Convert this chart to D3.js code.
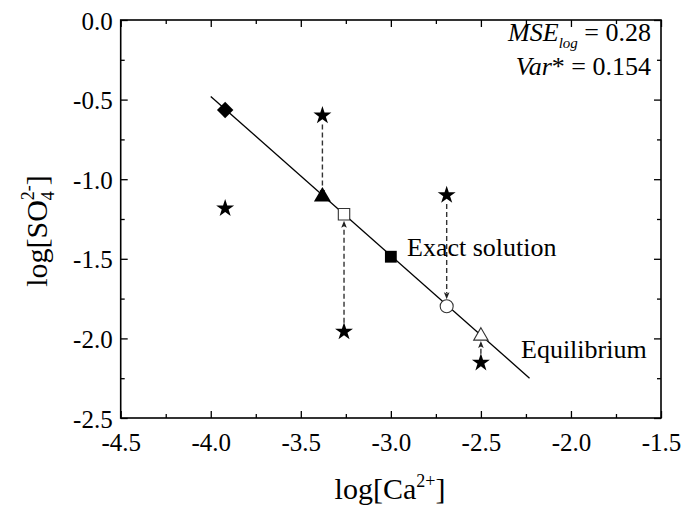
<!DOCTYPE html>
<html><head><meta charset="utf-8">
<script src="https://cdn.jsdelivr.net/npm/d3@7"></script>
<style>
html,body{margin:0;padding:0;background:#fff;}
svg text{font-family:"Liberation Serif","Times New Roman",serif;fill:#000;}
</style></head>
<body><svg id="c" width="685" height="514"></svg>
<script>
// ---- data ----
const xTicks = [-4.5, -4.0, -3.5, -3.0, -2.5, -2.0, -1.5];
const yTicks = [-2.5, -2.0, -1.5, -1.0, -0.5, 0.0];
const xMinor = [-4.25, -3.75, -3.25, -2.75, -2.25, -1.75];
const yMinor = [-2.25, -1.75, -1.25, -0.75, -0.25];
// equilibrium line
const lineX = [-4.0, -2.23];
const lineY = [-0.48, -2.25];
// points on the equilibrium line
const eqX = [-3.92, -3.38, -3.26, -3.0, -2.69, -2.50];
const eqY = [-0.565, -1.11, -1.22, -1.487, -1.798, -1.985];
const eqShape = ["diamond", "triangle", "squareOpen", "square", "circleOpen", "triangleOpen"];
// star points (measurements)
const starX = [-3.92, -3.38, -3.26, -2.69, -2.50];
const starY = [-1.183, -0.60, -1.958, -1.10, -2.153];
// arrows: star index -> eq index
const arrowFrom = [1, 2, 3, 4];
const arrowTo   = [1, 2, 4, 5];

const svg = d3.select("#c");
const x = d3.scaleLinear().domain([-4.5, -1.5]).range([120.7, 661]);
const y = d3.scaleLinear().domain([-2.5, 0]).range([418, 20]);
const fmt = d => d.toFixed(1);

// axes
const gB = svg.append("g").attr("transform", "translate(0,418)");
gB.call(d3.axisBottom(x).tickValues(xTicks).tickSize(-7).tickSizeOuter(0).tickPadding(15).tickFormat(fmt));
const gB2 = svg.append("g").attr("transform", "translate(0,418)");
gB2.call(d3.axisBottom(x).tickValues(xMinor).tickSize(-4).tickSizeOuter(0).tickFormat(""));
const gT = svg.append("g").attr("transform", "translate(0,20)");
gT.call(d3.axisTop(x).tickValues(xTicks).tickSize(-7).tickSizeOuter(0).tickFormat(""));
const gT2 = svg.append("g").attr("transform", "translate(0,20)");
gT2.call(d3.axisTop(x).tickValues(xMinor).tickSize(-4).tickSizeOuter(0).tickFormat(""));
const gL = svg.append("g").attr("transform", "translate(120.7,0)");
gL.call(d3.axisLeft(y).tickValues(yTicks).tickSize(-7).tickSizeOuter(0).tickPadding(8).tickFormat(fmt));
const gL2 = svg.append("g").attr("transform", "translate(120.7,0)");
gL2.call(d3.axisLeft(y).tickValues(yMinor).tickSize(-4).tickSizeOuter(0).tickFormat(""));
const gR = svg.append("g").attr("transform", "translate(661,0)");
gR.call(d3.axisRight(y).tickValues(yTicks).tickSize(-7).tickSizeOuter(0).tickFormat(""));
const gR2 = svg.append("g").attr("transform", "translate(661,0)");
gR2.call(d3.axisRight(y).tickValues(yMinor).tickSize(-4).tickSizeOuter(0).tickFormat(""));

svg.selectAll(".domain").remove();
svg.selectAll(".tick line").attr("stroke", "#000").attr("stroke-width", 1.3);
svg.selectAll(".tick text").attr("font-size", 25).attr("font-family", "Liberation Serif").attr("fill", "#000");
gL.selectAll(".tick text").attr("dy", "0.36em");

// frame
svg.append("rect").attr("x", x(-4.5)).attr("y", y(0))
  .attr("width", x(-1.5) - x(-4.5)).attr("height", y(-2.5) - y(0))
  .attr("fill", "none").attr("stroke", "#000").attr("stroke-width", 1.6);

// equilibrium line
svg.append("line")
  .attr("x1", x(lineX[0])).attr("y1", y(lineY[0]))
  .attr("x2", x(lineX[1])).attr("y2", y(lineY[1]))
  .attr("stroke", "#000").attr("stroke-width", 1.3);

// arrows
const gap = {triangle: 0, squareOpen: 6.5, circleOpen: 7, triangleOpen: 5};
arrowFrom.forEach((si, k) => {
  const ei = arrowTo[k];
  const px = x(starX[si]);
  const sy = y(starY[si]);
  const ey = y(eqY[ei]);
  const dir = Math.sign(ey - sy);
  const y0 = sy + dir * 9;
  const tip = ey - dir * gap[eqShape[ei]];
  const base = tip - dir * 7;
  svg.append("line").attr("x1", px).attr("x2", px).attr("y1", y0).attr("y2", base + dir * 1)
    .attr("stroke", "#333").attr("stroke-width", 1.4).attr("stroke-dasharray", "5,3");
  svg.append("path")
    .attr("d", `M${px},${tip} L${px - 2.8},${base} L${px},${base + dir * 1.5} L${px + 2.8},${base} Z`)
    .attr("fill", "#222");
});

// stars
const starSym = d3.symbol().type(d3.symbolStar).size(100);
svg.selectAll("path.star").data(starX).join("path").attr("class", "star")
  .attr("transform", (d, i) => `translate(${x(d)},${y(starY[i])})`)
  .attr("d", starSym).attr("fill", "#000");

// eq markers
eqX.forEach((vx, i) => {
  const t = eqShape[i];
  const g = svg.append("g").attr("transform", `translate(${x(vx)},${y(eqY[i])})`);
  if (t === "diamond") {
    g.append("path").attr("d", d3.symbol().type(d3.symbolSquare).size(135)()).attr("transform", "rotate(45)").attr("fill", "#000");
  } else if (t === "triangle") {
    g.append("path").attr("d", d3.symbol().type(d3.symbolTriangle).size(125)()).attr("fill", "#000");
  } else if (t === "squareOpen") {
    g.append("path").attr("d", d3.symbol().type(d3.symbolSquare).size(130)()).attr("fill", "#fff").attr("stroke", "#333").attr("stroke-width", 1.1);
  } else if (t === "square") {
    g.append("path").attr("d", d3.symbol().type(d3.symbolSquare).size(140)()).attr("fill", "#000");
  } else if (t === "circleOpen") {
    g.append("circle").attr("r", 6.5).attr("fill", "#fff").attr("stroke", "#333").attr("stroke-width", 1.1);
  } else if (t === "triangleOpen") {
    g.append("path").attr("d", d3.symbol().type(d3.symbolTriangle).size(90)()).attr("fill", "#fff").attr("stroke", "#333").attr("stroke-width", 1.1);
  }
});

// labels
svg.append("text").attr("x", 407).attr("y", 256).attr("font-size", 26).text("Exact solution");
svg.append("text").attr("x", 521).attr("y", 358).attr("font-size", 26).text("Equilibrium");

// stats
const t1 = svg.append("text").attr("x", 651).attr("y", 41).attr("font-size", 26).attr("text-anchor", "end");
t1.append("tspan").attr("font-style", "italic").text("MSE");
t1.append("tspan").attr("font-style", "italic").attr("font-size", 15).attr("dy", 7).text("log");
t1.append("tspan").attr("dy", -7).text(" = 0.28");
const t2 = svg.append("text").attr("x", 651).attr("y", 75).attr("font-size", 26).attr("text-anchor", "end");
t2.append("tspan").attr("font-style", "italic").text("Var");
t2.append("tspan").text("* = 0.154");

// axis titles
const xt = svg.append("text").attr("x", 390).attr("y", 499).attr("font-size", 30).attr("text-anchor", "middle");
xt.append("tspan").text("log[Ca");
xt.append("tspan").attr("font-size", 18).attr("dy", -12).text("2+");
xt.append("tspan").attr("dy", 12).text("]");

const yt = svg.append("text").attr("transform", "translate(47,231) rotate(-90)").attr("font-size", 30).attr("text-anchor", "middle");
yt.append("tspan").text("log[SO");
yt.append("tspan").attr("font-size", 18).attr("dy", 7).text("4");
yt.append("tspan").attr("font-size", 18).attr("dx", -9).attr("dy", -20).text("2-");
yt.append("tspan").attr("dy", 13).text("]");
</script></body></html>
